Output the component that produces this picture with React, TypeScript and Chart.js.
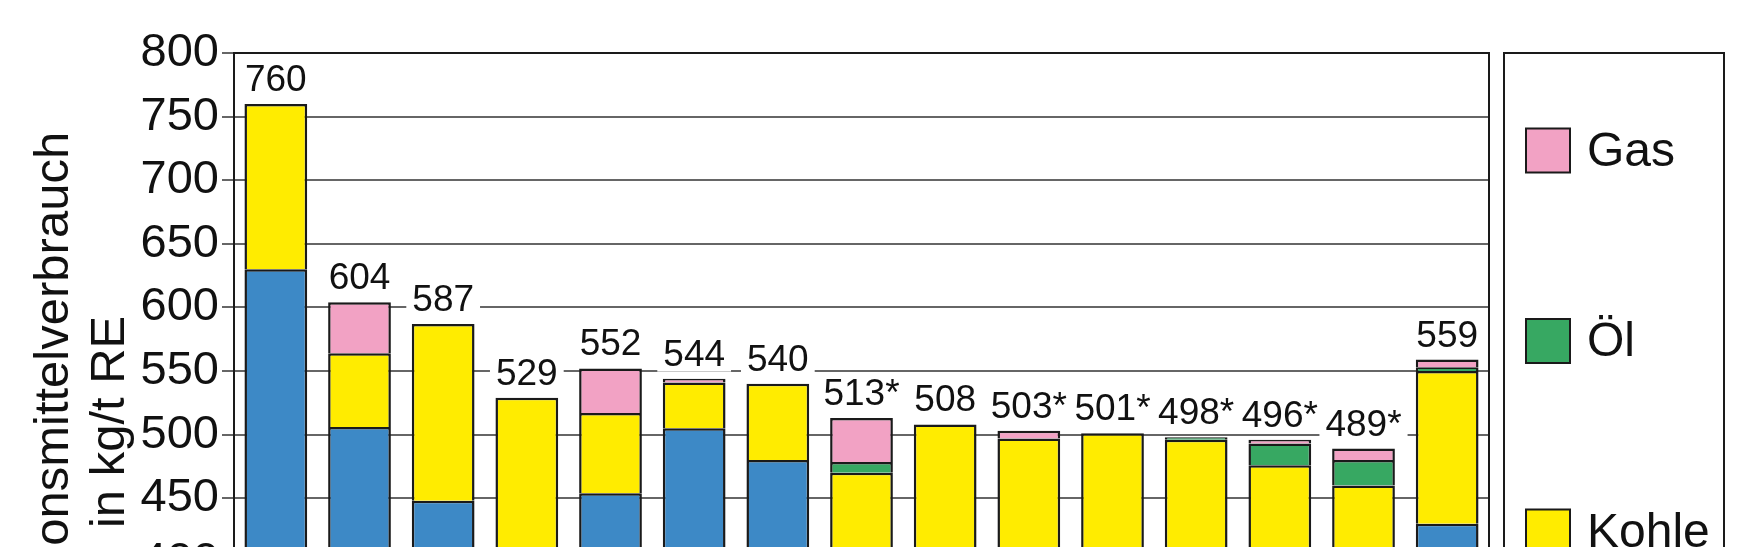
import React, { useEffect, useRef } from "react";
import { Chart, registerables } from "chart.js";

Chart.register(...registerables);

// ---- data ----
const categories = ["1", "2", "3", "4", "5", "6", "7", "8", "9", "10", "11", "12", "13", "14", "15"];
const valueLabels = ["760", "604", "587", "529", "552", "544", "540", "513*", "508", "503*", "501*", "498*", "496*", "489*", "559"];
const koks = [630, 506, 448, 350, 454, 505, 480, 330, 320, 310, 300, 300, 300, 300, 430];
const kohle = [130, 58, 139, 179, 63, 36, 60, 140, 188, 187, 201, 196, 176, 160, 120];
const oel = [0, 0, 0, 0, 0, 0, 0, 8.5, 0, 0, 0, 2, 17, 20, 3];
const gas = [0, 40, 0, 0, 35, 3, 0, 34.5, 0, 6, 0, 0, 3, 9, 6];
const seriesNames = ["Koks", "Kohle", "Öl", "Gas"];
const seriesColors = ["#3D89C6", "#FFEC00", "#37A862", "#F2A2C4"];
const yTitle = ["Reduktionsmittelverbrauch", "in kg/t RE"];
const yMin = 220;
const yMax = 800;
const yStep = 50;

const FONT = "'Liberation Sans', Arial, Helvetica, sans-serif";
const INK = "#111111";

const framePlugin = {
  id: "frameAndLabels",
  afterDatasetsDraw(chart: any) {
    const { ctx, chartArea: a, scales } = chart;
    ctx.save();
    ctx.strokeStyle = "#1a1a1a";
    ctx.lineWidth = 2;
    ctx.strokeRect(a.left, a.top, a.right - a.left, a.bottom - a.top);
    ctx.font = `37px ${FONT}`;
    ctx.textAlign = "center";
    ctx.textBaseline = "alphabetic";
    const meta = chart.getDatasetMeta(0);
    categories.forEach((_, i) => {
      const total = chart.data.datasets.reduce(
        (s: number, d: any) => s + (Number(d.data[i]) || 0),
        0
      );
      const x = meta.data[i].x;
      const y = scales.y.getPixelForValue(total) - 13;
      const w = ctx.measureText(valueLabels[i]).width;
      ctx.fillStyle = "#ffffff";
      ctx.fillRect(x - w / 2 - 6, y - 32, w + 12, 38);
      ctx.fillStyle = INK;
      ctx.fillText(valueLabels[i], x, y);
    });
    ctx.restore();
  },
};

const legendPlugin = {
  id: "boxLegend",
  afterDraw(chart: any) {
    const { ctx, chartArea: a } = chart;
    const left = a.right + 15;
    const top = a.top;
    const width = 220;
    ctx.save();
    ctx.lineWidth = 2;
    ctx.strokeStyle = "#1a1a1a";
    ctx.strokeRect(left, top, width, a.bottom - top);
    const items = chart.data.datasets
      .map((d: any) => ({ label: d.label, color: d.backgroundColor }))
      .reverse();
    items.forEach((it: any, k: number) => {
      const cy = top + 97.5 + k * 190.5;
      ctx.fillStyle = it.color;
      ctx.fillRect(left + 22, cy - 22, 44, 44);
      ctx.strokeRect(left + 22, cy - 22, 44, 44);
      ctx.fillStyle = INK;
      ctx.font = `48px ${FONT}`;
      ctx.textBaseline = "middle";
      ctx.textAlign = "left";
      ctx.fillText(it.label, left + 83, cy + 2);
    });
    ctx.restore();
  },
};

export default function App() {
  const ref = useRef<HTMLCanvasElement>(null);

  useEffect(() => {
    const series = [koks, kohle, oel, gas];
    const chart = new Chart(ref.current as HTMLCanvasElement, {
      type: "bar",
      data: {
        labels: categories,
        datasets: series.map((data, i) => ({
          label: seriesNames[i],
          data,
          backgroundColor: seriesColors[i],
          borderColor: "#1a1a1a",
          borderWidth: 2.5,
          categoryPercentage: 1,
          barPercentage: 0.75,
          stack: "s",
        })),
      },
      options: {
        responsive: false,
        animation: false,
        devicePixelRatio: 1,
        layout: { padding: { top: 53, left: 0, right: 259, bottom: 49.2 } },
        plugins: {
          legend: { display: false },
          tooltip: { enabled: false },
        },
        scales: {
          x: {
            display: false,
            stacked: true,
            grid: { display: false },
          },
          y: {
            stacked: true,
            min: yMin,
            max: yMax,
            afterFit(scale: any) {
              scale.width = 234;
            },
            ticks: {
              stepSize: yStep,
              autoSkip: false,
              padding: 3,
              color: INK,
              font: { family: FONT, size: 47 },
            },
            grid: {
              color: "#666666",
              lineWidth: 2,
              tickLength: 12,
              tickColor: "#666666",
            },
            border: { color: "#1a1a1a", width: 2 },
            title: {
              display: true,
              text: yTitle,
              color: INK,
              font: { family: FONT, size: 49, lineHeight: 1.16 },
              padding: { top: 25.6, bottom: 0 },
            },
          },
        },
      },
      plugins: [framePlugin, legendPlugin],
    });
    return () => chart.destroy();
  }, []);

  return (
    <div
      style={{
        position: "absolute",
        left: 0,
        top: 0,
        width: 1748,
        height: 547,
        overflow: "hidden",
        background: "#ffffff",
      }}
    >
      <canvas
        ref={ref}
        width={1748}
        height={840}
        style={{ display: "block", width: 1748, height: 840 }}
      />
    </div>
  );
}
